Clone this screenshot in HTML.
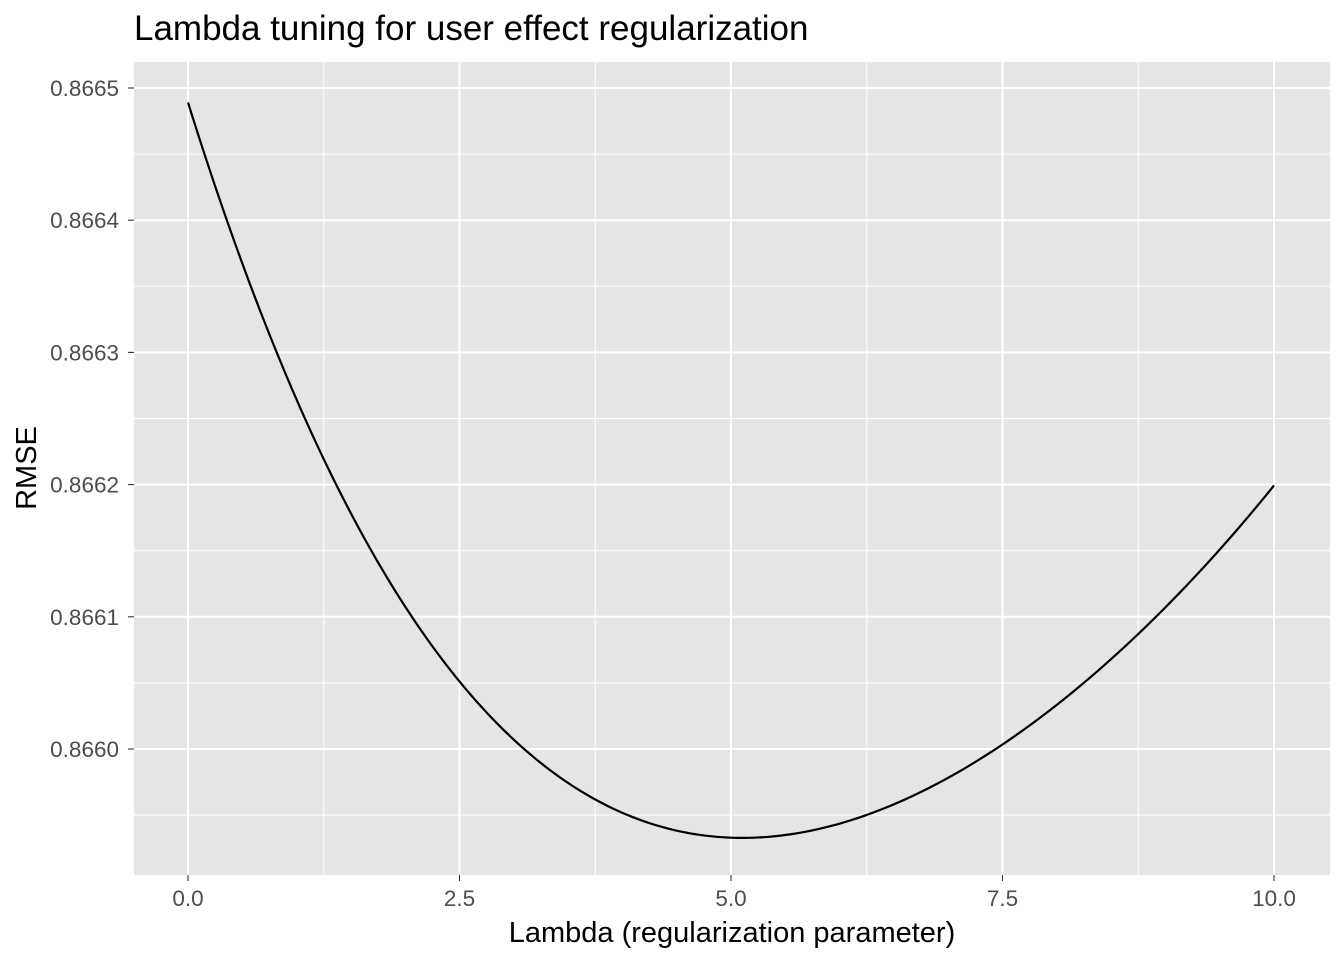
<!DOCTYPE html>
<html><head><meta charset="utf-8"><style>
body{margin:0;background:#fff;}
svg{display:block;font-family:"Liberation Sans",Arial,sans-serif;}
</style></head><body>
<svg id="c" width="1344" height="960" xmlns="http://www.w3.org/2000/svg">
<rect x="0" y="0" width="1344" height="960" fill="#fff"/>
<text x="134" y="40" font-size="35" fill="#000">Lambda tuning for user effect regularization</text>
<rect x="134" y="62" width="1196" height="813" fill="#e5e5e5"/>
<g id="grid"></g>
<g id="line"></g>
<g id="axes"></g>
<text x="732" y="942" font-size="29" text-anchor="middle" fill="#000">Lambda (regularization parameter)</text>
<text transform="translate(36,468) rotate(-90)" font-size="29" text-anchor="middle" fill="#000">RMSE</text>
</svg>
<script>
const lambdas=[0,0.354,0.797,1.25,1.653,2.063,2.5,2.787,3.083,3.75,4.07,5.007,5.15,6.25,6.906,7.5,8.246,8.75,9.383,10];
const rmse=[0.8664918,0.8664007,0.8663006,0.8662201,0.8661505,0.8661006,0.8660526,0.8660244,0.8660011,0.8659660,0.8659510,0.8659322,0.8659319,0.8659488,0.8659715,0.8660017,0.8660509,0.8660849,0.8661505,0.8661934];
const xTicks=[0,2.5,5,7.5,10];
const xTickLabels=["0.0","2.5","5.0","7.5","10.0"];
const yTicks=[0.8660,0.8661,0.8662,0.8663,0.8664,0.8665];
const yTickLabels=["0.8660","0.8661","0.8662","0.8663","0.8664","0.8665"];
const NS="http://www.w3.org/2000/svg";
const X=v=>188+(v-0)*(1274-188)/10;
const Y=v=>749-(v-0.8660)/0.0001*132.2;
function mk(tag,attrs,parent){const e=document.createElementNS(NS,tag);for(const k in attrs)e.setAttribute(k,attrs[k]);parent.appendChild(e);return e;}
const grid=document.getElementById('grid'),axes=document.getElementById('axes'),lineG=document.getElementById('line');
for(let i=0;i<xTicks.length-1;i++){const m=(xTicks[i]+xTicks[i+1])/2;
 const l=mk('line',{x1:X(m),x2:X(m),y1:62,y2:875,stroke:'#fff','stroke-width':1},grid);
 
 }
const yMinor=[];for(let i=0;i<yTicks.length-1;i++)yMinor.push((yTicks[i]+yTicks[i+1])/2);
yMinor.push(yTicks[0]-0.00005);
yMinor.forEach(m=>{
 const l=mk('line',{x1:134,x2:1330,y1:Y(m),y2:Y(m),stroke:'#fff','stroke-width':1},grid);
 
 });
xTicks.forEach((t,i)=>{
 const l=mk('line',{x1:X(t),x2:X(t),y1:62,y2:875,stroke:'#fff','stroke-width':2},grid);
 
 
 const tk=mk('line',{x1:X(t),x2:X(t),y1:875,y2:881,stroke:'#333','stroke-width':1.1},axes);
 
 
 const tx=mk('text',{x:X(t),y:906,'font-size':22.5,'text-anchor':'middle',fill:'#4d4d4d'},axes);
 tx.textContent=xTickLabels[i];
 
 
});
yTicks.forEach((t,i)=>{
 const l=mk('line',{x1:134,x2:1330,y1:Y(t),y2:Y(t),stroke:'#fff','stroke-width':2},grid);
 
 
 const tk=mk('line',{x1:128,x2:134,y1:Y(t),y2:Y(t),stroke:'#333','stroke-width':1.1},axes);
 
 
 const tx=mk('text',{x:119,y:Y(t)+8,'font-size':22.5,'text-anchor':'end',fill:'#4d4d4d'},axes);
 tx.textContent=yTickLabels[i];
 
 
});
// least-squares polynomial (degree 4) smoothing of the read values
const deg=4, n=lambdas.length, xs=lambdas.map(v=>v/10), ys=rmse.map(v=>(v-0.866)*1e4);
const A=[];for(let r=0;r<=deg;r++){A.push(new Array(deg+2).fill(0));}
for(let k=0;k<n;k++){for(let r=0;r<=deg;r++){for(let c=0;c<=deg;c++)A[r][c]+=Math.pow(xs[k],r+c);A[r][deg+1]+=Math.pow(xs[k],r)*ys[k];}}
for(let i=0;i<=deg;i++){let p=i;for(let j=i+1;j<=deg;j++)if(Math.abs(A[j][i])>Math.abs(A[p][i]))p=j;[A[i],A[p]]=[A[p],A[i]];
 for(let j=0;j<=deg;j++){if(j===i)continue;const f=A[j][i]/A[i][i];for(let c=i;c<=deg+1;c++)A[j][c]-=f*A[i][c];}}
const coef=A.map((r,i)=>r[deg+1]/r[i]);
const fit=x=>{let s=0;for(let i=0;i<=deg;i++)s+=coef[i]*Math.pow(x/10,i);return 0.866+s/1e4;};
const lo=lambdas[0],hi=lambdas[n-1];
let d='';
for(let i=0;i<=300;i++){const x=lo+(hi-lo)*i/300;d+=(i?'L':'M')+X(x).toFixed(2)+','+Y(fit(x)).toFixed(2);}
const path=mk('path',{d:d,fill:'none',stroke:'#000','stroke-width':2.2},lineG);


</script>
</body></html>
